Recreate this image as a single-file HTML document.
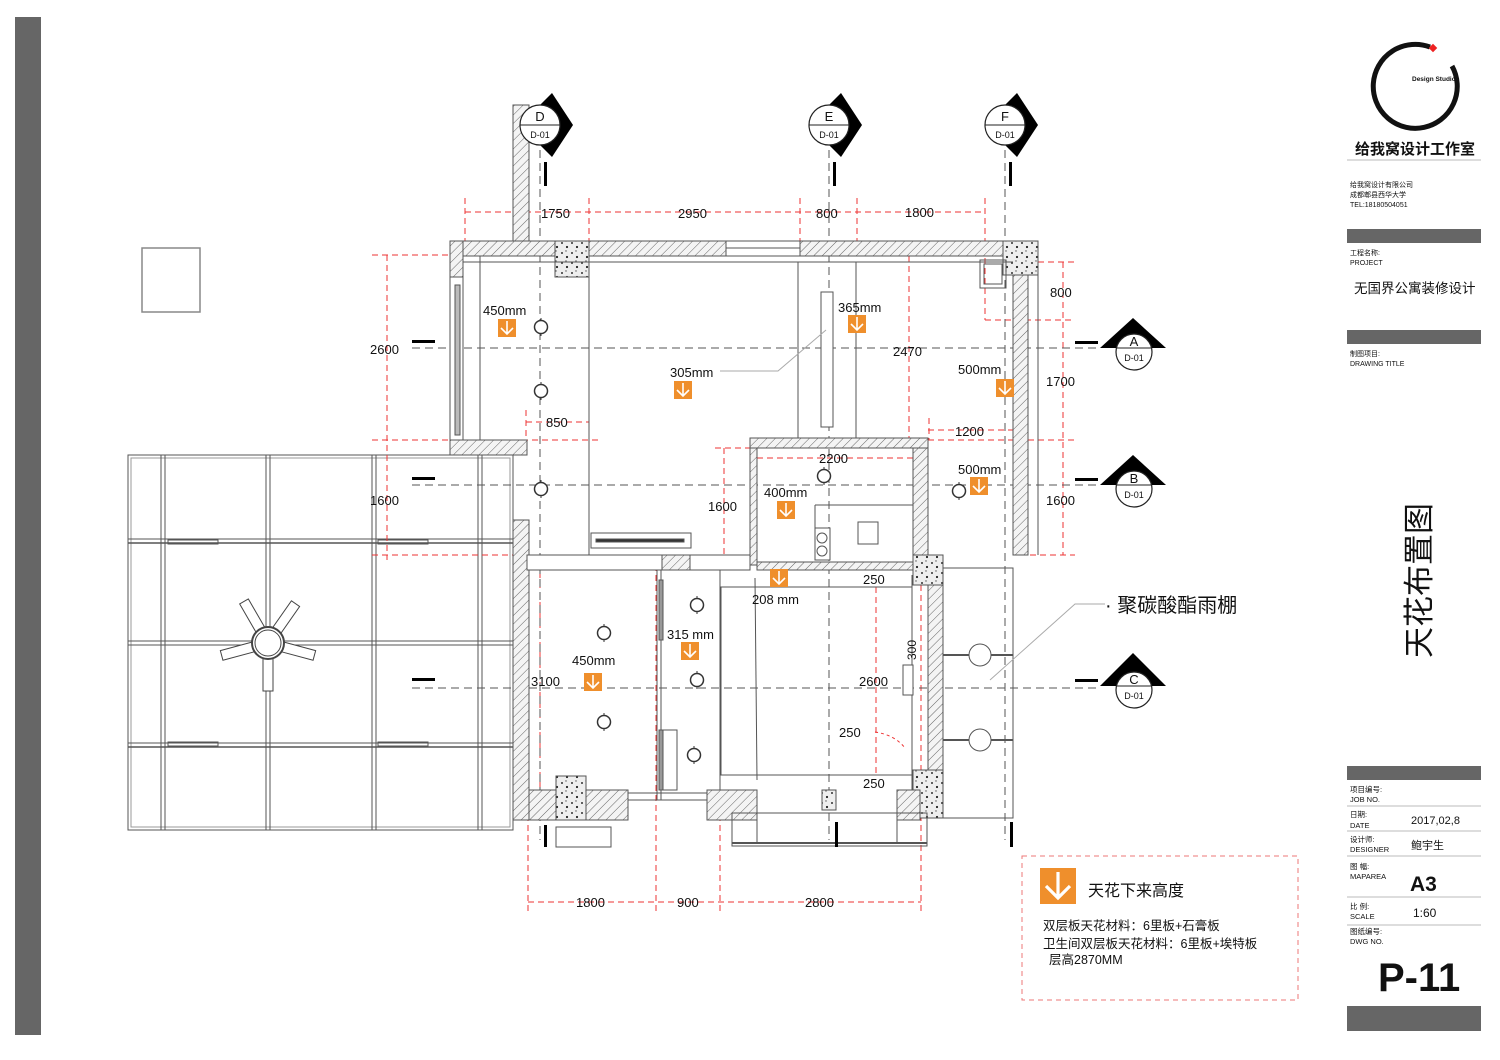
<!DOCTYPE html>
<html><head><meta charset="utf-8"><style>
html,body{margin:0;padding:0;background:#fff}
svg{display:block}
text{font-family:"Liberation Sans","Noto Sans CJK SC",sans-serif;fill:#111}
</style></head><body>
<svg width="1500" height="1060" viewBox="0 0 1500 1060" xmlns="http://www.w3.org/2000/svg">
<defs>
<pattern id="h" width="6" height="6" patternUnits="userSpaceOnUse" patternTransform="rotate(45)">
<rect width="6" height="6" fill="#f4f4f4"/><line x1="0" y1="0" x2="0" y2="6" stroke="#666" stroke-width="1"/></pattern>
<pattern id="c" width="10" height="10" patternUnits="userSpaceOnUse">
<rect width="10" height="10" fill="#eee"/><circle cx="2" cy="3" r="1" fill="#333"/><circle cx="7" cy="7" r="1.1" fill="#222"/><circle cx="6" cy="1" r=".7" fill="#555"/></pattern>
<g id="m"><rect x="0" y="0" width="18" height="18" fill="#ef8f2c"/><path d="M9 2V15M3 9L9 15L15 9" stroke="#fff" stroke-width="1.6" fill="none"/></g>
<g id="lamp"><circle r="6.5" fill="#fff" stroke="#333" stroke-width="1.5"/><line x1="0" y1="-9" x2="0" y2="-6" stroke="#333"/><line x1="0" y1="6" x2="0" y2="9" stroke="#333"/></g>
</defs>

<rect x="15" y="17" width="26" height="1018" fill="#666"/>
<rect x="142" y="248" width="58" height="64" fill="none" stroke="#888" stroke-width="1.5"/>

<g fill="none" stroke="#555" stroke-width="1">
<rect x="128" y="455" width="385" height="375"/>
<rect x="131" y="458" width="379" height="369" stroke="#999"/>
<g stroke-width="1">
<line x1="161" y1="455" x2="161" y2="830"/><line x1="165" y1="455" x2="165" y2="830"/>
<line x1="266" y1="455" x2="266" y2="830"/><line x1="270" y1="455" x2="270" y2="830"/>
<line x1="372" y1="455" x2="372" y2="830"/><line x1="376" y1="455" x2="376" y2="830"/>
<line x1="478" y1="455" x2="478" y2="830"/><line x1="482" y1="455" x2="482" y2="830"/>
<line x1="128" y1="539" x2="513" y2="539"/><line x1="128" y1="543" x2="513" y2="543" stroke-width="1.6"/>
<line x1="128" y1="641" x2="513" y2="641"/><line x1="128" y1="645" x2="513" y2="645"/>
<line x1="128" y1="743" x2="513" y2="743"/><line x1="128" y1="747" x2="513" y2="747" stroke-width="1.6"/>
</g>
<rect x="168" y="540" width="50" height="4"/><rect x="378" y="540" width="50" height="4"/>
<rect x="168" y="742" width="50" height="4"/><rect x="378" y="742" width="50" height="4"/>
</g>
<g stroke="#444" fill="#fff" stroke-width="1">
<g transform="translate(268,643)">
<rect x="-5" y="-48" width="10" height="36" transform="rotate(-30)"/>
<rect x="-5" y="-48" width="10" height="36" transform="rotate(35)"/>
<rect x="-5" y="-48" width="10" height="36" transform="rotate(105)"/>
<rect x="-5" y="-48" width="10" height="36" transform="rotate(180)"/>
<rect x="-5" y="-48" width="10" height="36" transform="rotate(255)"/>
<circle r="16" stroke-width="2"/><circle r="13"/>
</g></g>

<g stroke="#e33" stroke-width="1" stroke-dasharray="6,4" fill="none">
<line x1="465" y1="212" x2="985" y2="212"/>
<line x1="465" y1="198" x2="465" y2="250"/><line x1="589" y1="198" x2="589" y2="440"/><line x1="800" y1="198" x2="800" y2="250"/><line x1="857" y1="198" x2="857" y2="250"/><line x1="985" y1="198" x2="985" y2="320"/>
<line x1="372" y1="255" x2="450" y2="255"/><line x1="372" y1="440" x2="600" y2="440"/><line x1="387" y1="255" x2="387" y2="560"/>
<line x1="372" y1="555" x2="515" y2="555"/>
<line x1="526" y1="422" x2="589" y2="422"/><line x1="526" y1="410" x2="526" y2="440"/>
<line x1="1038" y1="262" x2="1075" y2="262"/><line x1="985" y1="320" x2="1075" y2="320"/><line x1="1063" y1="262" x2="1063" y2="555"/>
<line x1="928" y1="440" x2="1075" y2="440"/><line x1="1020" y1="555" x2="1075" y2="555"/>
<line x1="928" y1="430" x2="1015" y2="430"/><line x1="929" y1="418" x2="929" y2="440"/>
<line x1="909" y1="256" x2="909" y2="440"/>
<line x1="715" y1="448" x2="750" y2="448"/><line x1="724" y1="448" x2="724" y2="560"/>
<line x1="757" y1="458" x2="913" y2="458"/>
<line x1="528" y1="565" x2="528" y2="915"/><line x1="656" y1="565" x2="656" y2="915"/><line x1="720" y1="575" x2="720" y2="915"/><line x1="921" y1="575" x2="921" y2="915"/>
<line x1="528" y1="902" x2="921" y2="902"/>
<line x1="876" y1="587" x2="876" y2="775"/><line x1="858" y1="587" x2="900" y2="587"/><line x1="858" y1="775" x2="900" y2="775"/>
<line x1="540" y1="572" x2="540" y2="790"/>
<path d="M875 732 Q895 735 905 748" stroke-dasharray="3,3"/>
</g>

<g stroke="#555" stroke-width="1" stroke-dasharray="8,5">
<line x1="412" y1="348" x2="1100" y2="348"/>
<line x1="412" y1="485" x2="1100" y2="485"/>
<line x1="412" y1="688" x2="1100" y2="688"/>
<line x1="540" y1="150" x2="540" y2="840"/>
<line x1="829" y1="150" x2="829" y2="840"/>
<line x1="1005" y1="150" x2="1005" y2="840"/>
</g>

<g stroke="#555" stroke-width="1">
<rect x="513" y="105" width="16" height="136" fill="url(#h)"/>
<rect x="450" y="241" width="276" height="15" fill="url(#h)"/>
<rect x="726" y="241" width="74" height="15" fill="#fff"/>
<line x1="726" y1="248" x2="800" y2="248"/>
<rect x="800" y="241" width="238" height="15" fill="url(#h)"/>
<rect x="450" y="241" width="13" height="36" fill="url(#h)"/>
<rect x="1013" y="275" width="15" height="280" fill="url(#h)"/>
<line x1="1038" y1="241" x2="1038" y2="555"/>
<rect x="555" y="241" width="34" height="36" fill="url(#c)"/>
<rect x="1003" y="241" width="35" height="34" fill="url(#c)"/>
<rect x="980" y="260" width="26" height="28" fill="none"/><rect x="984" y="264" width="18" height="20" fill="none"/>
<rect x="450" y="277" width="13" height="163" fill="#fff"/>
<rect x="455" y="285" width="5" height="150" fill="#bbb"/>
<line x1="480" y1="256" x2="480" y2="440"/>
<rect x="450" y="440" width="77" height="15" fill="url(#h)"/>
<rect x="513" y="520" width="16" height="300" fill="url(#h)"/>
<line x1="589" y1="256" x2="589" y2="555"/>
<line x1="463" y1="262" x2="1013" y2="262"/>
<line x1="798" y1="262" x2="798" y2="438"/><line x1="856" y1="262" x2="856" y2="438"/>
<rect x="821" y="292" width="12" height="135" fill="#fff"/>
<rect x="750" y="438" width="178" height="10" fill="url(#h)"/>
<rect x="750" y="448" width="7" height="117" fill="url(#h)"/>
<rect x="913" y="448" width="15" height="117" fill="url(#h)"/>
<line x1="815" y1="505" x2="913" y2="505"/><line x1="815" y1="505" x2="815" y2="560"/>
<rect x="815" y="528" width="15" height="32" fill="#fff"/><circle cx="822" cy="538" r="5" fill="#fff"/><circle cx="822" cy="551" r="5" fill="#fff"/>
<rect x="858" y="522" width="20" height="22" fill="#fff"/>
<rect x="591" y="533" width="100" height="15" fill="#fff"/><rect x="596" y="539" width="88" height="3" fill="#333"/>
<rect x="527" y="555" width="223" height="15" fill="#fff"/>
<rect x="662" y="555" width="28" height="15" fill="url(#h)"/>
<rect x="757" y="562" width="156" height="8" fill="url(#h)"/>
<rect x="913" y="555" width="30" height="30" fill="url(#c)"/>
<rect x="943" y="568" width="70" height="250" fill="none"/>
<rect x="928" y="585" width="15" height="185" fill="url(#h)"/>
<rect x="913" y="770" width="30" height="48" fill="url(#c)"/>
<line x1="943" y1="655" x2="1013" y2="655" stroke-width="2"/><line x1="943" y1="740" x2="1013" y2="740" stroke-width="2"/>
<circle cx="980" cy="655" r="11" fill="#fff"/><circle cx="980" cy="740" r="11" fill="#fff"/>
<line x1="657" y1="570" x2="657" y2="800"/><line x1="661" y1="570" x2="661" y2="800"/>
<rect x="659" y="580" width="4" height="60" fill="#999"/><rect x="659" y="730" width="4" height="60" fill="#999"/>
<rect x="663" y="730" width="14" height="60" fill="#fff"/>
<line x1="720" y1="570" x2="720" y2="790"/>
<rect x="721" y="587" width="191" height="188" fill="none"/>
<line x1="912" y1="575" x2="912" y2="790"/>
<rect x="903" y="665" width="10" height="30" fill="#fff"/>
<rect x="529" y="790" width="99" height="30" fill="url(#h)"/>
<rect x="556" y="776" width="30" height="44" fill="url(#c)"/>
<line x1="628" y1="793" x2="707" y2="793"/><line x1="628" y1="800" x2="707" y2="800"/>
<rect x="707" y="790" width="50" height="30" fill="url(#h)"/>
<rect x="822" y="790" width="14" height="20" fill="url(#c)"/>
<rect x="897" y="790" width="23" height="30" fill="url(#h)"/>
<rect x="732" y="813" width="195" height="33" fill="none"/><line x1="732" y1="843" x2="927" y2="843" stroke-width="2"/>
<line x1="757" y1="813" x2="757" y2="843"/><line x1="897" y1="813" x2="897" y2="843"/>
<rect x="556" y="827" width="55" height="20" fill="#fff"/>
<line x1="755" y1="578" x2="757" y2="780"/>
</g>

<use href="#lamp" x="541" y="327"/><use href="#lamp" x="541" y="391"/><use href="#lamp" x="541" y="489"/>
<use href="#lamp" x="824" y="476"/><use href="#lamp" x="959" y="491"/>
<use href="#lamp" x="604" y="633"/><use href="#lamp" x="604" y="722"/>
<use href="#lamp" x="697" y="605"/><use href="#lamp" x="697" y="680"/><use href="#lamp" x="694" y="755"/>

<use href="#m" x="498" y="319"/><use href="#m" x="674" y="381"/><use href="#m" x="848" y="315"/>
<use href="#m" x="996" y="379"/><use href="#m" x="777" y="501"/><use href="#m" x="970" y="477"/>
<use href="#m" x="770" y="569"/><use href="#m" x="681" y="642"/><use href="#m" x="584" y="673"/>

<g stroke="#aaa" stroke-width="1" fill="none">
<polyline points="720,371 778,371 826,330"/>
<polyline points="1105,604 1075,604 990,680"/>
</g>

<g>
<polygon points="540,105 552,93 573,125 552,157 540,145" fill="#000"/>
<circle cx="540" cy="125" r="20" fill="#fff" stroke="#222" stroke-width="1.2"/><line x1="520" y1="125" x2="560" y2="125" stroke="#222"/>
<rect x="544" y="162" width="3" height="24" fill="#000"/>
<polygon points="829,105 841,93 862,125 841,157 829,145" fill="#000"/>
<circle cx="829" cy="125" r="20" fill="#fff" stroke="#222" stroke-width="1.2"/><line x1="809" y1="125" x2="849" y2="125" stroke="#222"/>
<rect x="833" y="162" width="3" height="24" fill="#000"/>
<polygon points="1005,105 1017,93 1038,125 1017,157 1005,145" fill="#000"/>
<circle cx="1005" cy="125" r="20" fill="#fff" stroke="#222" stroke-width="1.2"/><line x1="985" y1="125" x2="1025" y2="125" stroke="#222"/>
<rect x="1009" y="162" width="3" height="24" fill="#000"/>
</g>
<g font-size="12" text-anchor="middle">
<text x="540" y="121" font-size="13">D</text><text x="540" y="138" font-size="9">D-01</text>
<text x="829" y="121" font-size="13">E</text><text x="829" y="138" font-size="9">D-01</text>
<text x="1005" y="121" font-size="13">F</text><text x="1005" y="138" font-size="9">D-01</text>
</g>
<g>
<polygon points="1100,348 1133,318 1166,348" fill="#000"/>
<circle cx="1134" cy="352" r="18" fill="#fff" stroke="#222" stroke-width="1.2"/><line x1="1116" y1="348" x2="1152" y2="348" stroke="#222"/>
<polygon points="1100,485 1133,455 1166,485" fill="#000"/>
<circle cx="1134" cy="489" r="18" fill="#fff" stroke="#222" stroke-width="1.2"/><line x1="1116" y1="485" x2="1152" y2="485" stroke="#222"/>
<polygon points="1100,686 1133,653 1166,686" fill="#000"/>
<circle cx="1134" cy="690" r="18" fill="#fff" stroke="#222" stroke-width="1.2"/><line x1="1116" y1="686" x2="1152" y2="686" stroke="#222"/>
<g fill="#000"><rect x="1075" y="341" width="23" height="3"/><rect x="1075" y="478" width="23" height="3"/><rect x="1075" y="679" width="23" height="3"/>
<rect x="412" y="340" width="23" height="3"/><rect x="412" y="477" width="23" height="3"/><rect x="412" y="678" width="23" height="3"/>
<rect x="544" y="825" width="3" height="22"/><rect x="835" y="822" width="3" height="25"/><rect x="1010" y="822" width="3" height="25"/></g>
</g>
<g text-anchor="middle">
<text x="1134" y="346" font-size="13">A</text><text x="1134" y="361" font-size="9">D-01</text>
<text x="1134" y="483" font-size="13">B</text><text x="1134" y="498" font-size="9">D-01</text>
<text x="1134" y="684" font-size="13">C</text><text x="1134" y="699" font-size="9">D-01</text>
</g>

<g font-size="13">
<text x="541" y="218">1750</text><text x="678" y="218">2950</text><text x="816" y="218">800</text><text x="905" y="217">1800</text>
<text x="370" y="354">2600</text><text x="370" y="505">1600</text>
<text x="546" y="427">850</text>
<text x="1050" y="297">800</text><text x="1046" y="386">1700</text><text x="1046" y="505">1600</text>
<text x="893" y="356">2470</text><text x="955" y="436">1200</text>
<text x="819" y="463">2200</text><text x="708" y="511">1600</text>
<text x="483" y="315">450mm</text><text x="670" y="377">305mm</text><text x="838" y="312">365mm</text>
<text x="958" y="374">500mm</text><text x="958" y="474">500mm</text><text x="764" y="497">400mm</text>
<text x="863" y="584">250</text><text x="752" y="604">208 mm</text><text x="667" y="639">315 mm</text>
<text x="572" y="665">450mm</text><text x="531" y="686">3100</text><text x="859" y="686">2600</text>
<text x="839" y="737">250</text><text x="863" y="788">250</text>
<text x="576" y="907">1800</text><text x="677" y="907">900</text><text x="805" y="907">2800</text>
<text x="916" y="660" font-size="12" transform="rotate(-90 916 660)">300</text>
</g>
<text x="1105" y="612" font-size="20">· 聚碳酸酯雨棚</text>

<rect x="1022" y="856" width="276" height="144" fill="none" stroke="#e77" stroke-dasharray="5,4"/>
<g transform="translate(1040,868) scale(2)"><use href="#m"/></g>
<text x="1088" y="896" font-size="16">天花下来高度</text>
<text x="1043" y="930" font-size="12.5">双层板天花材料：6里板+石膏板</text>
<text x="1043" y="948" font-size="12.5">卫生间双层板天花材料：6里板+埃特板</text>
<text x="1049" y="964" font-size="12.5">层高2870MM</text>

<path d="M1430 47 A42 42 0 1 0 1452 66" fill="none" stroke="#111" stroke-width="5"/>
<rect x="1430" y="45" width="6" height="6" fill="#e22" transform="rotate(45 1433 48)"/>
<text x="1412" y="81" font-size="6.5" font-weight="bold">Design Studio</text>
<text x="1355" y="154" font-size="15" font-weight="bold">给我窝设计工作室</text>
<line x1="1347" y1="160" x2="1481" y2="160" stroke="#bbb"/>
<text x="1350" y="187" font-size="7">给我窝设计有限公司</text>
<text x="1350" y="197" font-size="7">成都郫县西华大学</text>
<text x="1350" y="207" font-size="7">TEL:18180504051</text>
<rect x="1347" y="229" width="134" height="14" fill="#666"/>
<text x="1350" y="255" font-size="7">工程名称:</text><text x="1350" y="265" font-size="7">PROJECT</text>
<text x="1354" y="293" font-size="13.5">无国界公寓装修设计</text>
<rect x="1347" y="330" width="134" height="14" fill="#666"/>
<text x="1350" y="356" font-size="7">制图项目:</text><text x="1350" y="366" font-size="7">DRAWING TITLE</text>
<text x="1430" y="658" font-size="31" transform="rotate(-90 1430 658)">天花布置图</text>
<rect x="1347" y="766" width="134" height="14" fill="#666"/>
<g font-size="7.5"><text x="1350" y="792">项目编号:</text><text x="1350" y="802">JOB NO.</text>
<text x="1350" y="817">日期:</text><text x="1350" y="828">DATE</text>
<text x="1350" y="842">设计师:</text><text x="1350" y="852">DESIGNER</text>
<text x="1350" y="869">图  幅:</text><text x="1350" y="879">MAPAREA</text>
<text x="1350" y="909">比  例:</text><text x="1350" y="919">SCALE</text>
<text x="1350" y="934">图纸编号:</text><text x="1350" y="944">DWG NO.</text></g>
<g stroke="#bbb"><line x1="1347" y1="806" x2="1481" y2="806"/><line x1="1347" y1="831" x2="1481" y2="831"/><line x1="1347" y1="856" x2="1481" y2="856"/><line x1="1347" y1="897" x2="1481" y2="897"/><line x1="1347" y1="925" x2="1481" y2="925"/></g>
<text x="1411" y="824" font-size="11">2017,02,8</text>
<text x="1411" y="849" font-size="11">鲍宇生</text>
<text x="1410" y="891" font-size="21" font-weight="bold">A3</text>
<text x="1413" y="917" font-size="12">1:60</text>
<text x="1378" y="991" font-size="40" font-weight="bold">P-11</text>
<rect x="1347" y="1006" width="134" height="25" fill="#666"/>
</svg>
</body></html>
